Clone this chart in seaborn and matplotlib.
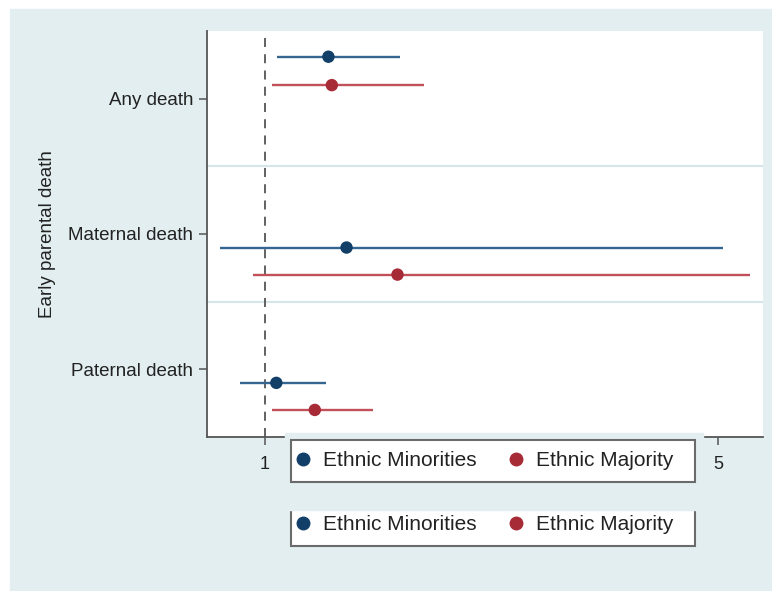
import numpy as np
import pandas as pd
import matplotlib
matplotlib.use("Agg")
import matplotlib.pyplot as plt
from matplotlib.patches import Rectangle
from matplotlib.lines import Line2D
import seaborn as sns

# odds ratios and 95% CI
outcomes = ["Any death", "Maternal death", "Paternal death"]
groups = ["Ethnic Minorities", "Ethnic Majority"]
or_minority = [1.56, 1.72, 1.10]
lo_minority = [1.11, 0.60, 0.78]
hi_minority = [2.19, 5.04, 1.54]
or_majority = [1.59, 2.17, 1.44]
lo_majority = [1.06, 0.89, 1.06]
hi_majority = [2.40, 5.28, 1.95]

# vertical offset of each series within its outcome row
offsets = {
    "Any death": (-0.31, -0.10),
    "Maternal death": (0.10, 0.30),
    "Paternal death": (0.10, 0.30),
}

dot_colors = {"Ethnic Minorities": "#123f68", "Ethnic Majority": "#a72b37"}
line_colors = {"Ethnic Minorities": "#35668f", "Ethnic Majority": "#c2505a"}
bg = "#e2eef0"

rows = []
for i, name in enumerate(outcomes):
    for j, (g, est, lo, hi) in enumerate(zip(
            groups,
            [or_minority[i], or_majority[i]],
            [lo_minority[i], lo_majority[i]],
            [hi_minority[i], hi_majority[i]])):
        rows.append(dict(outcome=name, group=g, est=est, lo=lo, hi=hi,
                         y=i + 1 + offsets[name][j]))
df = pd.DataFrame(rows)

sns.set_theme(style="white")
plt.rcParams["font.family"] = ["Liberation Sans", "DejaVu Sans"]

W, H = 772, 591
fig = plt.figure(figsize=(W / 100, H / 100), dpi=100)
fig.patch.set_facecolor("white")
fig.patches.append(Rectangle((10 / W, 0), 1 - 10 / W, (H - 9) / H,
                             transform=fig.transFigure, color=bg, zorder=-10))

ax = fig.add_axes([207 / W, (H - 437) / H, (763 - 207) / W, (437 - 31) / H])
ax.set_facecolor("white")

# separators between outcome rows
for yy in [1.5, 2.5]:
    ax.axhline(yy, color="#d5e5e9", lw=1.5, zorder=1)
ax.axvline(1, color="#555555", lw=1.3, ls=(0, (5, 4)), zorder=2)

for g in groups:
    sub = df[df.group == g]
    ax.hlines(sub.y, sub.lo, sub.hi, color=line_colors[g], lw=1.7, zorder=3)
sns.scatterplot(data=df, x="est", y="y", hue="group", palette=dot_colors,
                s=80, edgecolor="none", legend=False, ax=ax, zorder=4)

ax.set_xlim(0.488, 5.397)
ax.set_ylim(3.5, 0.5)
ax.set_xticks([1, 5])
ax.set_xticklabels(["1", "5"], fontsize=13, color="#222222")
ax.set_yticks([1, 2, 3])
ax.set_yticklabels(outcomes, fontsize=13.5, color="#222222")
ax.tick_params(axis="both", direction="out", length=6, width=1.1,
               color="#555555", bottom=True, left=True, pad=4)
ax.tick_params(axis="x", pad=8)
ax.set_xlabel("")
ax.set_ylabel("Early parental death", fontsize=13.5, color="#222222", labelpad=9)
for side in ["top", "right"]:
    ax.spines[side].set_visible(False)
for side in ["left", "bottom"]:
    ax.spines[side].set_color("#555555")
    ax.spines[side].set_linewidth(1.3)

handles = [Line2D([], [], marker="o", ls="none", color=dot_colors[g], markersize=9)
           for g in groups]


def add_legend(y0, y1, z):
    fig.patches.append(Rectangle((291 / W, 1 - y1 / H), (695 - 291) / W, (y1 - y0) / H,
                                 transform=fig.transFigure, facecolor="white",
                                 edgecolor="#6b6b6b", lw=1.5, zorder=z))
    leg = fig.legend(handles, groups, loc="center left", ncol=2,
                     bbox_to_anchor=(291 / W, 1 - (y0 + y1) / 2 / H),
                     fontsize=15, frameon=False, borderpad=0.25,
                     handletextpad=0.64, handlelength=0.65, columnspacing=1.58,
                     borderaxespad=0)
    leg.set_zorder(z + 1)
    for t in leg.get_texts():
        t.set_color("#222222")
    return leg


add_legend(504, 546, 20)
fig.patches.append(Rectangle((285 / W, 1 - 510 / H), (703 - 285) / W, (510 - 433) / H,
                             transform=fig.transFigure, color=bg, zorder=25))
add_legend(440, 482, 30)

fig.savefig("out.png", dpi=100, facecolor="white")
